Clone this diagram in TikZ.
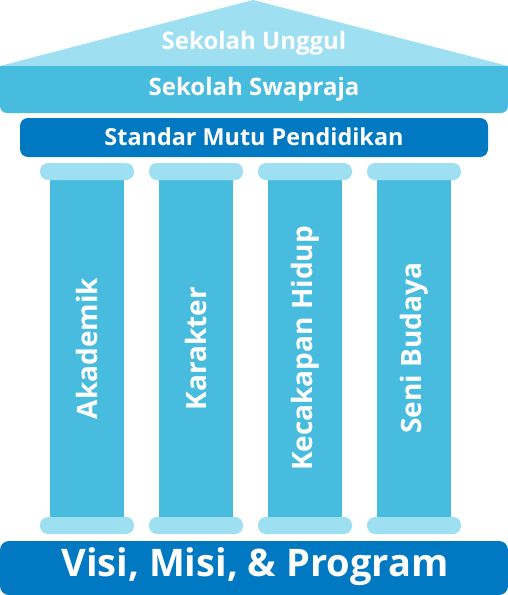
\documentclass[tikz,border=0pt]{standalone}
\usepackage{fontspec}
\setmainfont{Open Sans}
\definecolor{roofc}{HTML}{9EDFF2}
\definecolor{midc}{HTML}{48BCDE}
\definecolor{darkc}{HTML}{0078C2}
\tikzset{
  lbl/.style={text=white, font=\bfseries, inner sep=0pt},
  capbox/.style={fill=roofc, rounded corners=8pt, minimum width=94pt, minimum height=17pt, inner sep=0pt},
  shaft/.style={fill=midc, minimum width=74pt, minimum height=337pt, inner sep=0pt},
  vlbl/.style={lbl, rotate=90, font=\bfseries\fontsize{28}{28}\selectfont},
}
\begin{document}
\begin{tikzpicture}[x=1pt,y=-1pt]
\useasboundingbox (0,0) rectangle (508,595);
% roof
\fill[roofc] (0,66) -- (253,0) -- (508,66) -- cycle;
\node[lbl, font=\bfseries\fontsize{24}{24}\selectfont] (unggul) at (254,43) {Sekolah Unggul};
% swapraja band
\fill[midc] (0,66) rectangle (508,80);
\node[fill=midc, rounded corners=7pt, minimum width=508pt, minimum height=47pt, inner sep=0pt] (swapbox) at (254,89.5) {};
\node[lbl, font=\bfseries\fontsize{24}{24}\selectfont] (swap) at (254,89) {Sekolah Swapraja};
% standar
\node[fill=darkc, rounded corners=8pt, minimum width=468pt, minimum height=39pt, inner sep=0pt] (stdbox) at (254,137.5) {};
\node[lbl, font=\bfseries\fontsize{23.4}{23.4}\selectfont] (std) at (254,137) {Standar Mutu Pendidikan};
% pillars
\foreach \i/\t in {0/Akademik,1/Karakter,2/Kecakapan Hidup,3/Seni Budaya}{
  \pgfmathsetmacro{\cx}{87+109*\i}
  \node[shaft] (shaft\i) at (\cx,348.5) {};
  \node[capbox] (top\i) at (\cx,171.5) {};
  \node[capbox] (bot\i) at (\cx,525.5) {};
  \node[vlbl] (txt\i) at (\cx,348.5) {\t};
}
% base
\node[fill=darkc, rounded corners=9pt, minimum width=508pt, minimum height=54pt, inner sep=0pt] (basebox) at (254,568) {};
\node[lbl, font=\bfseries\fontsize{38}{38}\selectfont] (base) at (255,567) {Visi, Misi, \& Program};
\end{tikzpicture}
\end{document}
